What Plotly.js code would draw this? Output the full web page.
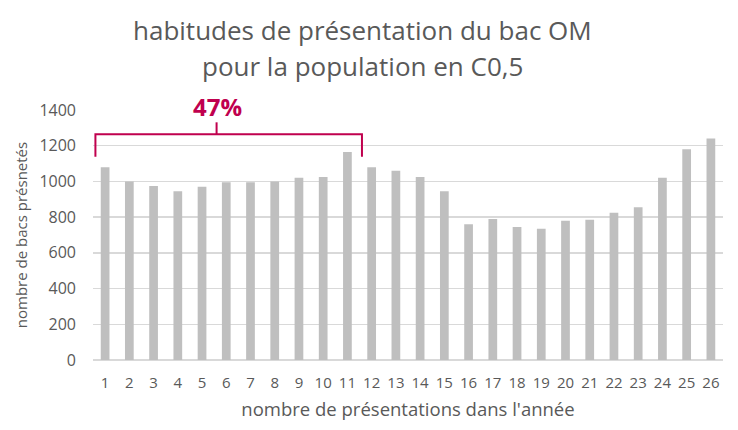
<!DOCTYPE html>
<html>
<head>
<meta charset="utf-8">
<script src="https://cdn.plot.ly/plotly-3.0.1.min.js"></script>
<style>
  body { margin: 0; background: #fff; }
  #chart { width: 738px; height: 430px; }
</style>
</head>
<body>
<div id="chart"></div>
<script>
const presentations = [1, 2, 3, 4, 5, 6, 7, 8, 9, 10, 11, 12, 13, 14, 15, 16, 17, 18, 19, 20, 21, 22, 23, 24, 25, 26]
const bacs = [1080, 1000, 975, 945, 970, 995, 995, 1000, 1020, 1025, 1165, 1080, 1060, 1025, 945, 760, 790, 745, 735, 780, 785, 825, 855, 1020, 1180, 1240]
const titleLines = ['habitudes de présentation du bac OM', 'pour la population en C0,5']
const bracketLabel = '47%'

const grey = '#595959'
const pink = '#c0004e'
const font = '"Open Sans", "Liberation Sans", sans-serif'

const data = [{
    x: presentations,
    y: bacs,
    type: 'bar',
    marker: {color: '#bfbfbf'},
    hoverinfo: 'x+y',
}]

// title drawn as two lines so the line spacing matches
const titleAnnotations = titleLines.map((line, i) => ({
    xref: 'paper', yref: 'paper',
    x: 0.428, y: i === 0 ? 1.318 : 1.178,
    xanchor: 'center', yanchor: 'middle',
    text: line,
    showarrow: false,
    font: {family: font, size: 26, color: grey},
}))

const layout = {
    width: 738,
    height: 430,
    showlegend: false,
    bargap: 0.64,
    paper_bgcolor: '#fff',
    plot_bgcolor: '#fff',
    font: {family: font, color: grey, size: 15},
    xaxis: {
        range: [0.5, 26.5],
        tickmode: 'array',
        tickvals: presentations,
        showgrid: false,
        zeroline: false,
        showline: false,
        ticks: '',
        ticklabelstandoff: 12,
        tickfont: {size: 15, color: grey},
        title: {
            text: "nombre de présentations dans l'année",
            font: {size: 18.5, color: grey},
            standoff: 12,
        },
        fixedrange: true,
    },
    yaxis: {
        range: [0, 1400],
        dtick: 200,
        showgrid: true,
        gridcolor: '#d9d9d9',
        gridwidth: 1.5,
        zeroline: true,
        zerolinecolor: '#d9d9d9',
        zerolinewidth: 1.5,
        ticks: '',
        ticklabelstandoff: 16,
        tickfont: {size: 16, color: grey},
        title: {
            text: 'nombre de bacs présnetés',
            font: {size: 15, color: grey},
            standoff: 8,
        },
        fixedrange: true,
    },
    margin: {l: 93, r: 15, t: 110, b: 70, pad: 0},
    shapes: [
        // bracket over 1..11
        {type: 'path', xref: 'x', yref: 'y',
         path: 'M 0.6 1138 L 0.6 1264 L 11.6 1264 L 11.6 1138',
         line: {color: pink, width: 2}},
        {type: 'line', xref: 'x', yref: 'y',
         x0: 5.6, x1: 5.6, y0: 1264, y1: 1331,
         line: {color: pink, width: 2}},
    ],
    annotations: titleAnnotations.concat([{
        xref: 'x', yref: 'paper',
        x: 5.65, y: 1.016,
        yanchor: 'middle',
        text: '<b>' + bracketLabel + '</b>',
        showarrow: false,
        font: {family: font, size: 24, color: pink},
    }]),
}

Plotly.newPlot('chart', data, layout, {displayModeBar: false, staticPlot: true})
</script>
</body>
</html>
